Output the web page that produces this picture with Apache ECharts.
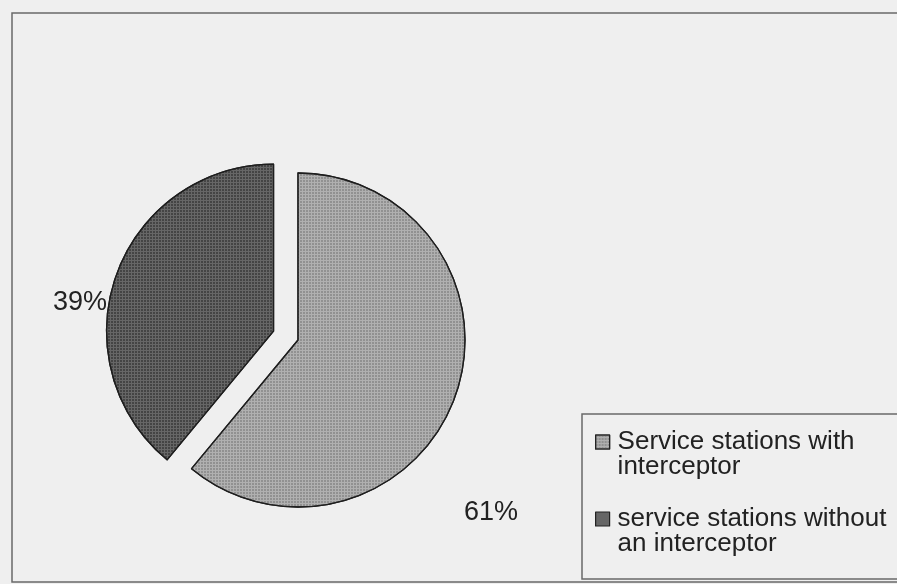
<!DOCTYPE html>
<html>
<head>
<meta charset="utf-8">
<script src="https://cdn.jsdelivr.net/npm/echarts@6/dist/echarts.min.js"></script>
<style>
html,body{margin:0;padding:0;background:#efefef;}
#c{width:897px;height:584px;}
</style>
</head>
<body>
<div id="c"></div>
<script>
const categories = ['Service stations with\ninterceptor', 'service stations without\nan interceptor'];
const values = [61, 39];
const sliceColors = ['#b0b0b0', '#666666'];
const decalColors = ['rgba(120,120,120,0.55)', 'rgba(40,40,40,0.55)'];
const exploded = [false, true];

const chart = echarts.init(document.getElementById('c'), null, {renderer: 'canvas'});

const pieCenter = [298, 340];
const pieRadius = 167;
const explodeOffset = 26;
const labelPos = [[491, 513], [80, 303]];

const total = values.reduce((a, b) => a + b, 0);
function centerFor(idx) {
  if (!exploded[idx]) return pieCenter;
  let before = 0;
  for (let k = 0; k < idx; k++) before += values[k];
  const midDeg = 90 - 360 * (before + values[idx] / 2) / total;
  const rad = midDeg * Math.PI / 180;
  return [pieCenter[0] + explodeOffset * Math.cos(rad), pieCenter[1] - explodeOffset * Math.sin(rad)];
}

const hidden = {color: 'rgba(0,0,0,0)', borderWidth: 0};

const series = categories.map((_, s) => ({
  type: 'pie',
  center: centerFor(s),
  radius: pieRadius,
  startAngle: 90,
  clockwise: true,
  silent: true,
  avoidLabelOverlap: false,
  itemStyle: {borderColor: '#1e1e1e', borderWidth: 1.3},
  label: {
    show: true,
    position: 'outside',
    formatter: '{c}%',
    fontFamily: 'Liberation Sans, Arial, sans-serif',
    fontSize: 27,
    color: '#222'
  },
  labelLine: {show: false},
  labelLayout: function (p) {
    const pos = labelPos[p.dataIndex];
    return {x: pos[0], y: pos[1], align: 'center', verticalAlign: 'middle'};
  },
  emphasis: {disabled: true},
  data: categories.map((name, i) => ({
    name: name,
    value: values[i],
    label: {show: i === s},
    itemStyle: i === s ? {
      color: sliceColors[i],
      decal: {
        symbol: 'rect',
        symbolSize: 1,
        dashArrayX: [2, 1],
        dashArrayY: [2, 1],
        color: decalColors[i]
      }
    } : hidden
  }))
}));

const option = {
  backgroundColor: '#efefef',
  animation: false,
  graphic: [
    {type: 'rect', shape: {x: 12, y: 13, width: 900, height: 569}, style: {fill: 'none', stroke: '#6a6a6a', lineWidth: 1.5}, z: 0},
    {type: 'rect', shape: {x: 582, y: 414, width: 330, height: 165}, style: {fill: 'none', stroke: '#6a6a6a', lineWidth: 1.5}, z: 0}
  ],
  legend: {
    orient: 'vertical',
    left: 595,
    top: 429,
    padding: 0,
    itemWidth: 14,
    itemHeight: 14,
    itemGap: 26,
    icon: 'rect',
    selectedMode: false,
    data: categories.map((n, i) => ({
      name: n,
      itemStyle: {color: sliceColors[i], borderColor: '#222', borderWidth: 1.2}
    })),
    formatter: function (name) {
      return name.split('\n').map(s => '{a|' + s + '}').join('\n');
    },
    textStyle: {
      padding: [25, 0, 0, 3],
      rich: {
        a: {
          fontFamily: 'Liberation Sans, Arial, sans-serif',
          fontSize: 26,
          color: '#222',
          lineHeight: 25
        }
      }
    }
  },
  series: series
};
chart.setOption(option);
</script>
</body>
</html>
